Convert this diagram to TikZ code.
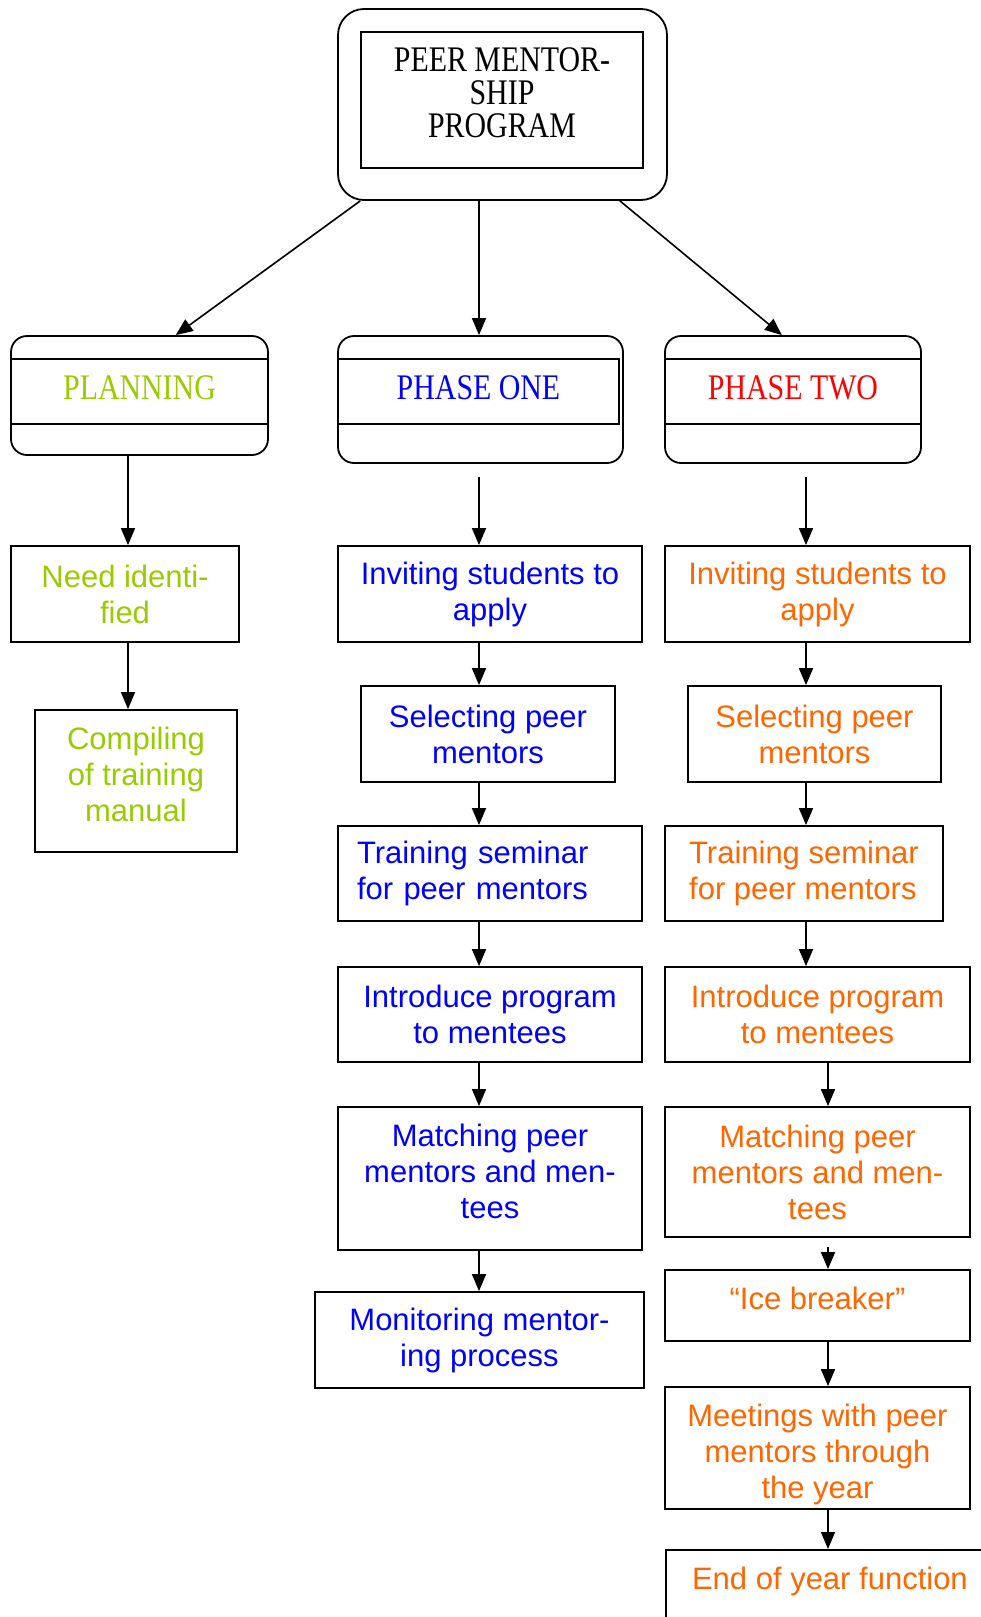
\documentclass[tikz,border=0pt]{standalone}
\usepackage{fontspec}
\setmainfont{Liberation Serif}
\setsansfont{Liberation Sans}
\newfontfamily\hdrfont[FakeStretch=0.83]{Liberation Serif}
\usetikzlibrary{arrows.meta,calc}
\definecolor{plangreen}{RGB}{153,204,0}
\definecolor{oneblue}{RGB}{0,0,255}
\definecolor{twored}{RGB}{255,0,0}
\definecolor{twoorange}{RGB}{255,102,0}

\begin{document}
\begin{tikzpicture}[x=1pt,y=-1pt]
	\tikzset{every node/.style={inner sep=2pt}}
	\tikzset{roundbox/.style = {draw,line width=1.8pt,rounded corners=16pt}}
	\tikzset{band/.style = {draw,line width=1.8pt,minimum height=65pt,text depth=7pt,
			font=\hdrfont\fontsize{36}{34}\selectfont}}
	\tikzset{stepbox/.style = {draw,line width=1.8pt,align=center,
			font=\sffamily\fontsize{31}{36}\selectfont}}
	\tikzset{edge/.style = {-{Triangle[length=17pt,width=14pt]},line width=1.6pt}}
	\useasboundingbox (0,0) rectangle (981,1617);
    % program
    \node[roundbox,rounded corners=26pt,minimum width=329pt,minimum height=191pt] (prog) at (502.5,104.5) {};
    \node[draw,line width=1.8pt,minimum width=282pt,minimum height=136pt] (progframe) at (502,100) {};
    \node[align=center,font=\hdrfont\fontsize{36}{33}\selectfont] (progtxt) at (502,93) {PEER MENTOR-\\SHIP\\PROGRAM};
    % phases
    \node[roundbox,minimum width=257pt,minimum height=119pt] (planbox) at (139.5,395.5) {};
    \node[band,minimum width=257pt,text=plangreen] (plan) at (139.5,391.5) {PLANNING};
    \node[roundbox,minimum width=285pt,minimum height=127pt] (onebox) at (480.5,399.5) {};
    \node[band,minimum width=281pt,text=oneblue] (one) at (478.5,391.5) {PHASE ONE};
    \node[roundbox,minimum width=256pt,minimum height=127pt] (twobox) at (793,399.5) {};
    \node[band,minimum width=256pt,text=twored] (two) at (793,391.5) {PHASE TWO};
    % planning steps
    \node[stepbox,minimum width=228pt,minimum height=96pt,text=plangreen] (need) at (125,594) {Need identi-\\fied};
    \node[stepbox,minimum width=202pt,minimum height=142pt,text=plangreen,text depth=14pt] (comp) at (136,781) {Compiling\\of training\\manual};
    % phase one steps
    \node[stepbox,minimum width=304pt,minimum height=96pt,text=oneblue] (inv1) at (490,594) {Inviting students to\\apply};
    \node[stepbox,minimum width=254pt,minimum height=96pt,text=oneblue] (sel1) at (488,734) {Selecting peer\\mentors};
    \node[stepbox,minimum width=304pt,minimum height=95pt,text=oneblue,text width=266pt,align=left] (tra1) at (490,873.5) {Training seminar\\for peer mentors};
    \node[stepbox,minimum width=304pt,minimum height=95pt,text=oneblue] (int1) at (490,1014.5) {Introduce program\\to mentees};
    \node[stepbox,minimum width=304pt,minimum height=143pt,text=oneblue,text depth=14pt] (mat1) at (490,1178.5) {Matching peer\\mentors and men-\\tees};
    \node[stepbox,minimum width=329pt,minimum height=96pt,text=oneblue] (mon1) at (479.5,1340) {Monitoring mentor-\\ing process};
    % phase two steps
    \node[stepbox,minimum width=305pt,minimum height=96pt,text=twoorange] (inv2) at (817.5,594) {Inviting students to\\apply};
    \node[stepbox,minimum width=253pt,minimum height=96pt,text=twoorange] (sel2) at (814.5,734) {Selecting peer\\mentors};
    \node[stepbox,minimum width=278pt,minimum height=95pt,text=twoorange,align=left] (tra2) at (804,873.5) {Training seminar\\for peer mentors};
    \node[stepbox,minimum width=305pt,minimum height=95pt,text=twoorange] (int2) at (817.5,1014.5) {Introduce program\\to mentees};
    \node[stepbox,minimum width=305pt,minimum height=130pt,text=twoorange] (mat2) at (817.5,1172) {Matching peer\\mentors and men-\\tees};
    \node[stepbox,minimum width=305pt,minimum height=71pt,text=twoorange,text depth=15pt] (ice) at (817.5,1305.5) {``Ice breaker''};
    \node[stepbox,minimum width=305pt,minimum height=122pt,text=twoorange,text height=100pt,text depth=0pt] (meet) at (817.5,1448) {Meetings with peer\\mentors through\\the year};
    \node[stepbox,anchor=north west,minimum width=328pt,text height=38pt,text depth=80pt,text=twoorange] (endy) at (665,1549) {End of year function};
    % arrow columns
    \coordinate (lx) at (128,0);
    \coordinate (mx) at (479,0);
    \coordinate (rx) at (806,0);
    \coordinate (rxx) at (828,0);
    %edges
    \draw[edge] ($(prog.south west)!0.07!(prog.south east)$) -- ($(planbox.north west)!0.64!(planbox.north east)$);
    \draw[edge] (prog.south -| mx) -- (onebox.north -| mx);
    \draw[edge] ($(prog.south west)!0.855!(prog.south east)$) -- ($(twobox.north west)!0.457!(twobox.north east)$);
    \draw[edge] (planbox.south -| lx) -- (need.north -| lx);
    \draw[edge] (need.south -| lx) -- (comp.north -| lx);
    \draw[edge,shorten <=13pt] (onebox.south -| mx) -- (inv1.north -| mx);
    \draw[edge] (inv1.south -| mx) -- (sel1.north -| mx);
    \draw[edge] (sel1.south -| mx) -- (tra1.north -| mx);
    \draw[edge] (tra1.south -| mx) -- (int1.north -| mx);
    \draw[edge] (int1.south -| mx) -- (mat1.north -| mx);
    \draw[edge] (mat1.south -| mx) -- (mon1.north -| mx);
    \draw[edge,shorten <=13pt] (twobox.south -| rx) -- (inv2.north -| rx);
    \draw[edge] (inv2.south -| rx) -- (sel2.north -| rx);
    \draw[edge] (sel2.south -| rx) -- (tra2.north -| rx);
    \draw[edge] (tra2.south -| rx) -- (int2.north -| rx);
    \draw[edge] (int2.south -| rxx) -- (mat2.north -| rxx);
    \draw[edge,shorten <=9pt] (mat2.south -| rxx) -- (ice.north -| rxx);
    \draw[edge] (ice.south -| rxx) -- (meet.north -| rxx);
    \draw[edge] (meet.south -| rxx) -- (endy.north -| rxx);
\end{tikzpicture}
\end{document}
